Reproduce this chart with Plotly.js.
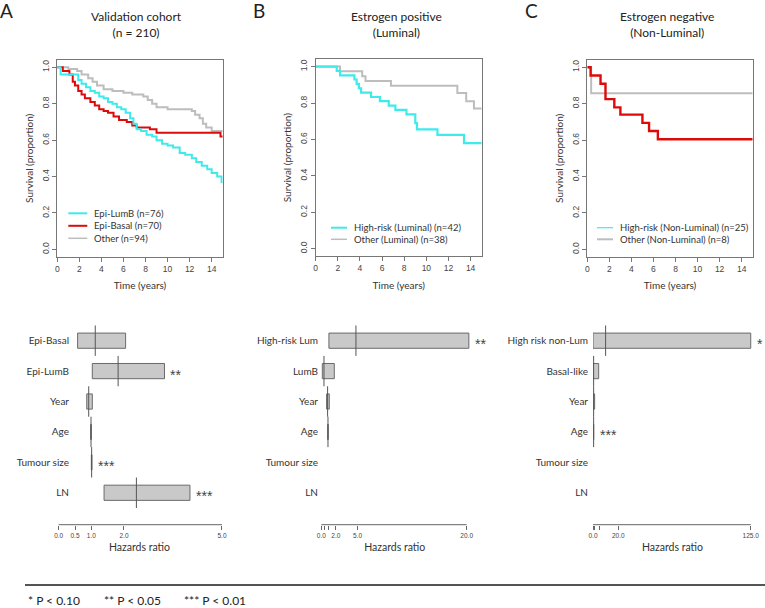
<!DOCTYPE html>
<html>
<head>
<meta charset="utf-8">
<script src="https://cdn.plot.ly/plotly-3.0.1.min.js"></script>
<style>
  body { margin: 0; background: #fff; }
  #fig { width: 765px; height: 608px; }
</style>
</head>
<body>
<div id="fig"></div>
<script>
// ---- Kaplan-Meier curves (time in years, survival proportion) ----
// A: validation cohort
var tA_lumb = [0, 0.3, 1.9, 2.2, 2.6, 3.0, 3.4, 3.8, 4.2, 4.6, 5.0, 5.4, 5.8, 6.2, 6.6, 6.9, 7.2, 7.6, 8.1, 8.6, 9.0, 9.5, 10.0, 10.5, 11.1, 11.6, 12.2, 12.6, 13.1, 13.6, 14.0, 14.5, 14.9, 15];
var sA_lumb = [1.0, 0.96, 0.93, 0.91, 0.89, 0.87, 0.86, 0.84, 0.83, 0.81, 0.80, 0.78, 0.77, 0.75, 0.72, 0.69, 0.66, 0.65, 0.63, 0.62, 0.60, 0.58, 0.57, 0.56, 0.53, 0.52, 0.50, 0.48, 0.46, 0.44, 0.42, 0.40, 0.37, 0.37];
var tA_basal = [0, 0.5, 1.1, 1.4, 1.6, 1.9, 2.2, 2.5, 3.0, 3.4, 3.8, 4.2, 4.6, 5.1, 5.6, 6.3, 6.8, 7.2, 8.4, 9.0, 14.8, 15];
var sA_basal = [1.0, 0.98, 0.96, 0.92, 0.90, 0.87, 0.85, 0.83, 0.81, 0.79, 0.77, 0.76, 0.75, 0.73, 0.71, 0.70, 0.68, 0.67, 0.66, 0.64, 0.62, 0.62];
var tA_other = [0, 1.0, 1.8, 2.2, 2.8, 3.2, 3.6, 4.2, 5.0, 6.0, 6.8, 7.8, 8.2, 8.6, 9.0, 10.0, 12.2, 12.5, 12.9, 13.2, 13.5, 14.0, 15];
var sA_other = [1.0, 0.99, 0.98, 0.96, 0.94, 0.92, 0.90, 0.88, 0.87, 0.86, 0.85, 0.84, 0.82, 0.80, 0.78, 0.77, 0.76, 0.74, 0.72, 0.69, 0.67, 0.65, 0.65];
// B: estrogen positive
var tB_high = [0, 1.9, 2.2, 3.5, 3.7, 3.9, 4.1, 5.0, 5.8, 6.6, 7.2, 8.2, 9.0, 9.15, 11.0, 13.4, 15];
var sB_high = [1.0, 0.976, 0.952, 0.929, 0.905, 0.881, 0.857, 0.833, 0.81, 0.786, 0.762, 0.738, 0.69, 0.655, 0.625, 0.58, 0.58];
var tB_other = [0, 2.2, 4.2, 4.5, 6.8, 12.8, 13.6, 14.3, 15];
var sB_other = [1.0, 0.974, 0.947, 0.921, 0.895, 0.855, 0.81, 0.77, 0.77];
// C: estrogen negative
var tC_high = [0, 0.3, 1.2, 1.65, 2.45, 3.0, 5.0, 5.6, 6.4, 15];
var sC_high = [1.0, 0.955, 0.91, 0.825, 0.78, 0.74, 0.695, 0.65, 0.605, 0.605];
var tC_other = [0, 0.35, 15];
var sC_other = [1.0, 0.857, 0.857];

// legend entries of the survival plots
var legA = ['Epi-LumB (n=76)', 'Epi-Basal (n=70)', 'Other (n=94)'];
var legB = ['High-risk (Luminal) (n=42)', 'Other (Luminal) (n=38)'];
var legC = ['High-risk (Non-Luminal) (n=25)', 'Other (Non-Luminal) (n=8)'];

// ---- Cox model hazards ratios ----
var rowsA = ['Epi-Basal', 'Epi-LumB', 'Year', 'Age', 'Tumour size', 'LN'];
var hrA = [1.12, 1.82, 0.92, 0.99, 1.01, 2.38];
var loA = [0.58, 1.03, 0.86, 0.98, 1.00, 1.39];
var hiA = [2.05, 3.24, 1.03, 1.00, 1.02, 4.02];
var starsA = ['', '**', '', '', '***', '***'];
var ticksA = [0, 0.5, 1, 2, 5];
var tickTextA = ['0.0', '0.5', '1.0', '2.0', '5.0'];

var rowsB = ['High-risk Lum', 'LumB', 'Year', 'Age', 'Tumour size', 'LN'];
var hrB = [4.77, 0.37, 0.87, 0.92, null, null];
var loB = [1.05, 0.14, 0.73, 0.88, null, null];
var hiB = [20.3, 1.79, 1.10, 0.96, null, null];
var starsB = ['**', '', '', '', '', ''];
var ticksB = [0, 0.5, 1, 2, 5, 20];
var tickTextB = ['0.0', '', '', '2.0', '5.0', '20.0'];

var rowsC = ['High risk non-Lum', 'Basal-like', 'Year', 'Age', 'Tumour size', 'LN'];
var hrC = [10.0, 0.5, 0.5, 0.5, null, null];
var loC = [0.0, 0.0, 0.0, 0.45, null, null];
var hiC = [125, 4.5, 1.3, 0.55, null, null];
var starsC = ['*', '', '', '***', '', ''];
var ticksC = [0, 1, 5, 20, 125];
var tickTextC = ['0.0', '', '', '20.0', '125.0'];

var notes = ['* P &lt; 0.10', '** P &lt; 0.05', '*** P &lt; 0.01'];

var CYAN = '#3feaea', RED = '#dd0a0a', GREY = '#bdbdbd';
var W = 765, H = 608;
function px(x) { return x / W; }
function py(y) { return 1 - y / H; }

var lblFont = 'Lato, "Open Sans", sans-serif';
var numFont = '"Liberation Sans", Arial, sans-serif';

function km(t, s, color, width, xa, ya) {
  return {
    x: t, y: s, type: 'scatter', mode: 'lines',
    line: {shape: 'hv', color: color, width: width},
    xaxis: xa, yaxis: ya, showlegend: false
  };
}

var data = [
  km(tA_other, sA_other, GREY, 2, 'x', 'y'),
  km(tA_basal, sA_basal, RED, 2, 'x', 'y'),
  km(tA_lumb, sA_lumb, CYAN, 2, 'x', 'y'),
  km(tB_other, sB_other, GREY, 2, 'x2', 'y2'),
  km(tB_high, sB_high, CYAN, 2.2, 'x2', 'y2'),
  km(tC_other, sC_other, GREY, 2, 'x3', 'y3'),
  km(tC_high, sC_high, RED, 2.4, 'x3', 'y3')
];

var annotations = [];
var shapes = [];

function forest(rows, hr, lo, hi, stars, xa, ya) {
  var yb = [], xb = [], bb = [], sx = [], sy = [];
  for (var i = 0; i < rows.length; i++) {
    if (hr[i] === null) continue;
    yb.push(i); xb.push(hi[i] - lo[i]); bb.push(lo[i]);
    sx.push(hr[i], hr[i], null); sy.push(i - 0.5, i + 0.5, null);
    if (stars[i]) {
      annotations.push({text: stars[i], x: hi[i], y: i, xref: xa, yref: ya, showarrow: false,
        xanchor: 'left', yanchor: 'middle', xshift: 4, yshift: -3.5,
        font: {family: numFont, size: 14, color: '#444'}});
    }
  }
  data.push({
    type: 'bar', orientation: 'h', y: yb, x: xb, base: bb, width: 0.5,
    marker: {color: '#c9c9c9', line: {color: '#6a6a6a', width: 1}},
    xaxis: xa, yaxis: ya, showlegend: false, hoverinfo: 'skip'
  });
  data.push({
    type: 'scatter', mode: 'lines', x: sx, y: sy,
    line: {color: '#555', width: 1}, xaxis: xa, yaxis: ya, showlegend: false
  });
}
forest(rowsA, hrA, loA, hiA, starsA, 'x4', 'y4');
forest(rowsB, hrB, loB, hiB, starsB, 'x5', 'y5');
forest(rowsC, hrC, loC, hiC, starsC, 'x6', 'y6');

// hand-built legends (R style: short key, tight rows)
function legend(names, colors, widths, keyL, keyR, textX, firstY, step) {
  for (var i = 0; i < names.length; i++) {
    var y = firstY + i * step;
    shapes.push({type: 'line', xref: 'paper', yref: 'paper', x0: px(keyL), x1: px(keyR),
      y0: py(y), y1: py(y), line: {color: colors[i], width: widths[i]}});
    annotations.push({text: names[i], x: px(textX), y: py(y), xref: 'paper', yref: 'paper',
      showarrow: false, xanchor: 'left', yanchor: 'middle',
      font: {family: lblFont, size: 9.5, color: '#333'}});
  }
}
legend(legA, [CYAN, RED, GREY], [2, 2, 1.5], 68.3, 87.3, 92, 213.3, 12.5);
legend(legB, [CYAN, GREY], [2, 1.5], 331, 347, 352, 227.7, 11.6);
legend(legC, [CYAN, GREY], [1.2, 2], 597, 613, 618, 227.7, 11.6);

function kmX(l, r, anchor) {
  return {
    domain: [px(l), px(r)], anchor: anchor, range: [0, 15],
    tickvals: [0, 2, 4, 6, 8, 10, 12, 14],
    showline: true, mirror: true, linecolor: '#777', linewidth: 1,
    ticks: 'outside', ticklen: 4, tickcolor: '#777',
    showgrid: false, zeroline: false,
    tickfont: {family: numFont, size: 8.5, color: '#444'},
    title: {text: 'Time (years)', font: {family: lblFont, size: 10, color: '#333'}, standoff: 9}
  };
}
function kmY(t, b, anchor) {
  return {
    domain: [py(b), py(t)], anchor: anchor, range: [-0.04, 1.04],
    tickvals: [0, 0.2, 0.4, 0.6, 0.8, 1.0], tickformat: '.1f', tickangle: -90,
    showline: true, mirror: true, linecolor: '#777', linewidth: 1,
    ticks: 'outside', ticklen: 4, tickcolor: '#777',
    showgrid: false, zeroline: false,
    tickfont: {family: numFont, size: 8.5, color: '#444'},
    title: {text: 'Survival (proportion)', font: {family: lblFont, size: 10, color: '#333'}, standoff: 5}
  };
}
function fX(l, r, range, ticks, text, anchor) {
  return {
    domain: [px(l), px(r)], anchor: anchor, range: range,
    tickvals: ticks, ticktext: text,
    showline: false, ticks: 'outside', ticklen: 4, tickcolor: '#666',
    showgrid: false, zeroline: false,
    tickfont: {family: numFont, size: 6.5, color: '#444'},
    title: {text: 'Hazards ratio', font: {family: lblFont, size: 10.5, color: '#333'}, standoff: 6}
  };
}
function fY(rows, labelRight) {
  return {
    domain: [py(524.7), py(320)], anchor: 'free', position: px(labelRight),
    range: [6.05, -0.68], tickvals: [0, 1, 2, 3, 4, 5], ticktext: rows,
    showline: false, ticks: '', showgrid: false, zeroline: false,
    tickfont: {family: lblFont, size: 10, color: '#333'}
  };
}
function axisLine(ticks, xa, ya) {
  return {type: 'line', xref: xa, yref: ya + ' domain', x0: ticks[0], x1: ticks[ticks.length - 1],
          y0: 0, y1: 0, line: {color: '#666', width: 1}};
}
shapes.push(axisLine(ticksA, 'x4', 'y4'), axisLine(ticksB, 'x5', 'y5'), axisLine(ticksC, 'x6', 'y6'));
shapes.push({type: 'line', xref: 'paper', yref: 'paper', x0: px(25), x1: 1, y0: py(585), y1: py(585),
             line: {color: '#555', width: 2}});

function title(text, x) {
  return {text: text, x: px(x), y: py(24), xref: 'paper', yref: 'paper', showarrow: false,
          xanchor: 'center', yanchor: 'middle', font: {family: lblFont, size: 12, color: '#222'}};
}
function letter(text, x) {
  return {text: text, x: px(x), y: py(10), xref: 'paper', yref: 'paper', showarrow: false,
          xanchor: 'left', yanchor: 'middle', font: {family: lblFont, size: 19, color: '#222'}};
}
annotations.push(
  letter('A', -2), letter('B', 251), letter('C', 523),
  title('Validation cohort<br>(n = 210)', 136.7),
  title('Estrogen positive<br>(Luminal)', 396.7),
  title('Estrogen negative<br>(Non-Luminal)', 666.7)
);
var noteX = [26, 102, 182];
for (var k = 0; k < notes.length; k++) {
  annotations.push({text: notes[k], x: px(noteX[k]), y: py(600), xref: 'paper', yref: 'paper',
    showarrow: false, xanchor: 'left', yanchor: 'middle',
    font: {family: lblFont, size: 12, color: '#222'}});
}

var layout = {
  width: W, height: H, margin: {l: 0, r: 0, t: 0, b: 0},
  paper_bgcolor: '#fff', plot_bgcolor: '#fff', bargap: 0, showlegend: false,
  xaxis: kmX(57.3, 222.7, 'y'), yaxis: kmY(60, 256.7, 'x'),
  xaxis2: kmX(315.7, 481.7, 'y2'), yaxis2: kmY(59.3, 256, 'x2'),
  xaxis3: kmX(587.3, 752.7, 'y3'), yaxis3: kmY(60, 256.7, 'x3'),
  xaxis4: fX(55.4, 223.6, [-0.1, 5.05], ticksA, tickTextA, 'y4'), yaxis4: fY(rowsA, 69),
  xaxis5: fX(319.1, 470.3, [-0.3, 20.5], ticksB, tickTextB, 'y5'), yaxis5: fY(rowsB, 318),
  xaxis6: fX(593, 752, [0, 126], ticksC, tickTextC, 'y6'), yaxis6: fY(rowsC, 588),
  shapes: shapes,
  annotations: annotations
};

Plotly.newPlot('fig', data, layout, {displayModeBar: false, staticPlot: true});
</script>
</body>
</html>
